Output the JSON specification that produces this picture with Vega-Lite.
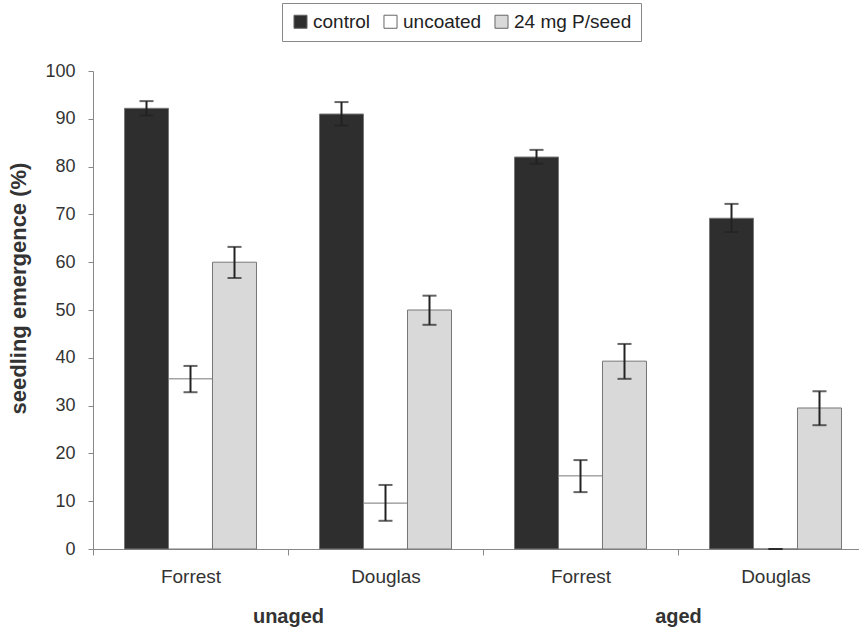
{
  "$schema": "https://vega.github.io/schema/vega-lite/v6.json",
  "autosize": "none",
  "width": 780,
  "height": 478,
  "padding": {"left": 93, "top": 71, "right": 0, "bottom": 80},
  "background": "white",
  "config": {
    "view": {"stroke": null},
    "font": "Liberation Sans",
    "axis": {"grid": false, "labelFont": "Liberation Sans", "titleFont": "Liberation Sans"}
  },
  "data": {
    "values": [
      {"key": "unaged Forrest", "age": "unaged", "treatment": "control", "value": 92.2, "lo": 90.7, "hi": 93.7},
      {"key": "unaged Forrest", "age": "unaged", "treatment": "uncoated", "value": 35.6, "lo": 32.8, "hi": 38.3},
      {"key": "unaged Forrest", "age": "unaged", "treatment": "24 mg P/seed", "value": 60.0, "lo": 56.7, "hi": 63.2},
      {"key": "unaged Douglas", "age": "unaged", "treatment": "control", "value": 91.0, "lo": 88.6, "hi": 93.5},
      {"key": "unaged Douglas", "age": "unaged", "treatment": "uncoated", "value": 9.6, "lo": 5.9, "hi": 13.4},
      {"key": "unaged Douglas", "age": "unaged", "treatment": "24 mg P/seed", "value": 50.0, "lo": 46.9, "hi": 53.0},
      {"key": "aged Forrest", "age": "aged", "treatment": "control", "value": 82.0, "lo": 80.6, "hi": 83.5},
      {"key": "aged Forrest", "age": "aged", "treatment": "uncoated", "value": 15.3, "lo": 11.9, "hi": 18.6},
      {"key": "aged Forrest", "age": "aged", "treatment": "24 mg P/seed", "value": 39.3, "lo": 35.6, "hi": 42.9},
      {"key": "aged Douglas", "age": "aged", "treatment": "control", "value": 69.2, "lo": 66.3, "hi": 72.2},
      {"key": "aged Douglas", "age": "aged", "treatment": "uncoated", "value": 0.0, "lo": 0.0, "hi": 0.0},
      {"key": "aged Douglas", "age": "aged", "treatment": "24 mg P/seed", "value": 29.5, "lo": 25.9, "hi": 33.0}
    ]
  },
  "layer": [
    {
      "encoding": {
        "x": {
          "field": "key", "type": "nominal", "sort": null,
          "scale": {"paddingInner": 0, "paddingOuter": 0},
          "axis": {
            "orient": "bottom",
            "title": null, "labelAngle": 0,
            "labelExpr": "split(datum.label, ' ')[1]",
            "tickBand": "extent", "tickSize": 6, "tickColor": "#888",
            "domainColor": "#888", "labelPadding": 12,
            "labelFontSize": 19, "labelColor": "#333", "labelBaseline": "top"
          }
        },
        "xOffset": {
          "field": "treatment", "type": "nominal",
          "sort": ["control", "uncoated", "24 mg P/seed"],
          "scale": {"paddingInner": 0, "paddingOuter": 0.716}
        }
      },
      "layer": [
        {
          "mark": {"type": "bar", "stroke": "#777", "strokeWidth": 1},
          "encoding": {
            "y": {
              "field": "value", "type": "quantitative",
              "scale": {"domain": [0, 100], "nice": false},
              "axis": {
                "title": "seedling emergence (%)",
                "titleFontSize": 22, "titleFontWeight": "bold", "titleColor": "#333",
                "titleX": -75, "titleY": 217, "titleAngle": -90,
                "titleAlign": "center", "titleBaseline": "middle",
                "values": [0, 10, 20, 30, 40, 50, 60, 70, 80, 90, 100],
                "tickSize": 5, "tickColor": "#888", "domainColor": "#888",
                "labelPadding": 13, "labelFontSize": 18, "labelColor": "#333"
              }
            },
            "fill": {
              "field": "treatment", "type": "nominal",
              "scale": {
                "domain": ["control", "uncoated", "24 mg P/seed"],
                "range": ["#2e2e2e", "#ffffff", "#d9d9d9"]
              },
              "legend": {
                "title": null, "orient": "none", "direction": "horizontal",
                "legendX": 189, "legendY": -68,
                "symbolType": "square", "symbolSize": 170,
                "symbolStrokeColor": "#666", "symbolStrokeWidth": 1,
                "labelFontSize": 19, "labelColor": "#222", "labelOffset": 3,
                "columnPadding": 10, "strokeColor": "#888", "padding": 9
              }
            }
          }
        },
        {
          "mark": {"type": "rule", "color": "#222", "strokeWidth": 2},
          "encoding": {
            "y": {"field": "lo", "type": "quantitative"},
            "y2": {"field": "hi"}
          }
        },
        {
          "mark": {"type": "tick", "color": "#222", "thickness": 2, "size": 14, "orient": "horizontal"},
          "encoding": {"y": {"field": "lo", "type": "quantitative"}}
        },
        {
          "mark": {"type": "tick", "color": "#222", "thickness": 2, "size": 14, "orient": "horizontal"},
          "encoding": {"y": {"field": "hi", "type": "quantitative"}}
        }
      ]
    },
    {
      "mark": {"type": "point", "opacity": 0},
      "encoding": {
        "x": {
          "field": "age", "type": "nominal", "sort": ["unaged", "aged"],
          "scale": {"paddingInner": 0, "paddingOuter": 0},
          "axis": {
            "orient": "bottom",
            "title": null, "labelAngle": 0, "domain": false, "ticks": false,
            "labelPadding": 57, "labelFontSize": 20, "labelFontWeight": "bold",
            "labelColor": "#333", "labelBaseline": "top"
          }
        },
        "y": {"field": "value", "type": "quantitative"}
      }
    }
  ],
  "resolve": {"scale": {"x": "independent"}, "axis": {"x": "independent"}}
}
